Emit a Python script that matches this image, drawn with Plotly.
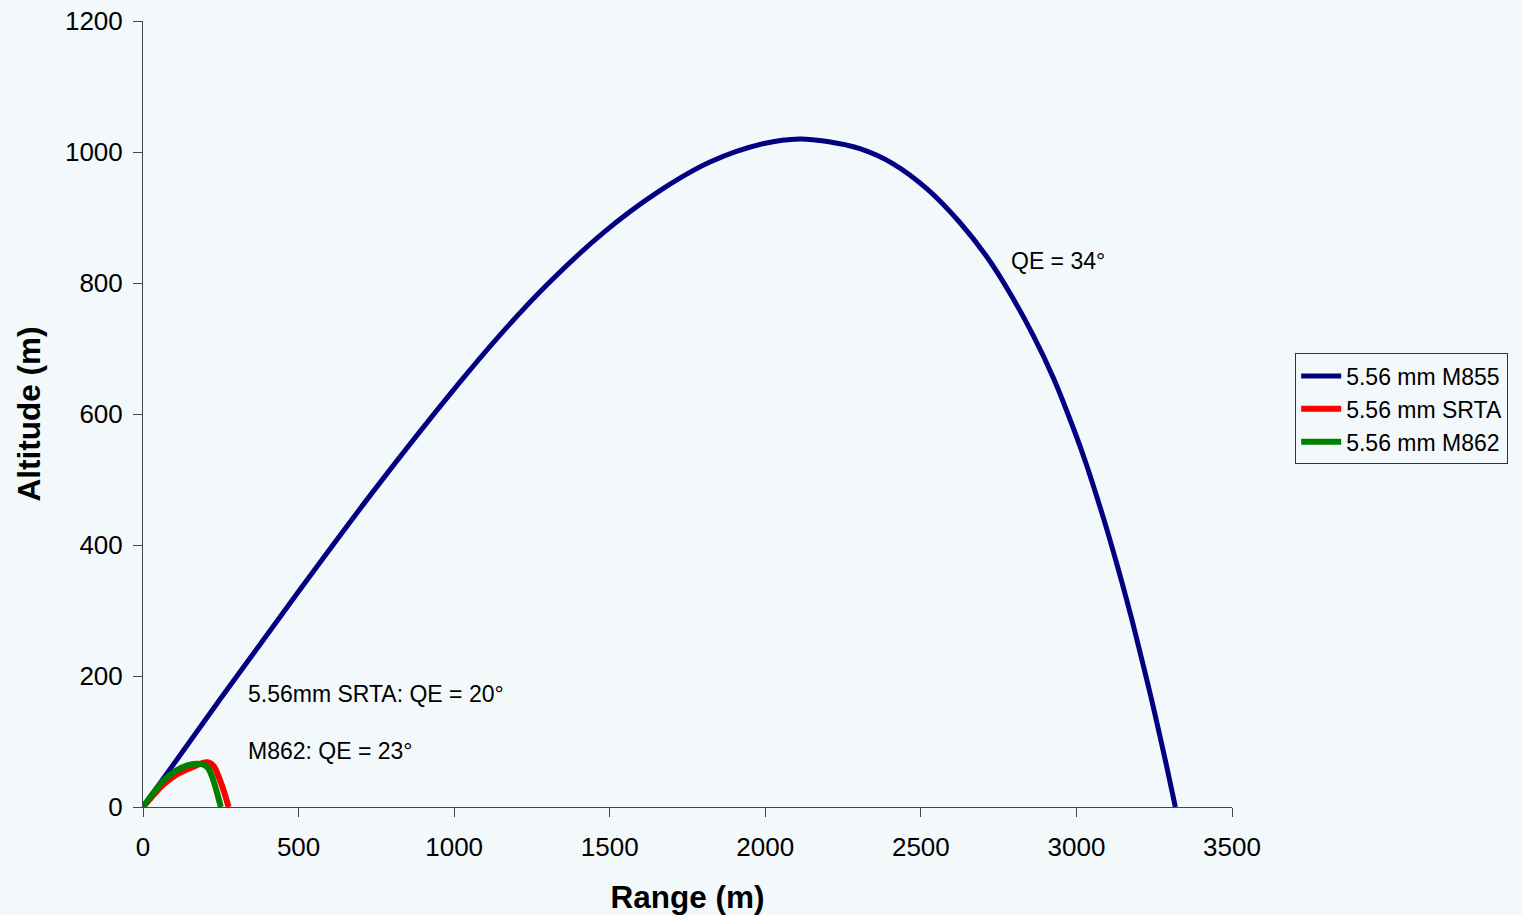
import plotly.graph_objects as go

# M855 trajectory (range m, altitude m)
m855_range = [0, 250, 500, 750, 1000, 1150, 1300, 1480, 1652, 1824, 1996, 2110, 2200,
              2304, 2411, 2519, 2626, 2712, 2787, 2861, 2926, 2996, 3032, 3066,
              3099, 3131, 3160, 3189, 3216, 3242, 3267, 3291, 3318]
m855_alt = [0, 166, 329, 488, 638, 722, 798, 877, 938, 985, 1013, 1020, 1016,
            1005, 982, 944, 892, 840, 784, 720, 655, 571, 523, 473,
            422, 369, 319, 266, 214, 163, 111, 60, 0]

# SRTA trajectory
srta_range = [0, 65, 110, 160, 190, 210, 228, 245, 260, 275]
srta_alt = [0, 34, 50, 61, 67, 68, 62, 44, 24, 0]

# M862 trajectory
m862_range = [0, 65, 108, 145, 170, 193, 210, 226, 239, 250]
m862_alt = [0, 40, 56, 64, 66, 65, 59, 41, 20, 0]

names = ["5.56 mm M855", "5.56 mm SRTA", "5.56 mm M862"]
colors = ["#000080", "#FF0000", "#008000"]
widths = [5, 6, 6]
smooth = [1.0, 0.8, 0.8]

x_ticks = [0, 500, 1000, 1500, 2000, 2500, 3000, 3500]
y_ticks = [0, 200, 400, 600, 800, 1000, 1200]

labels = [
    ("QE = 34°", 2784, 833),
    ("5.56mm SRTA: QE = 20°", 331, 172),
    ("M862: QE = 23°", 331, 85),
]

BG = "#F3F8FB"
FONT = "Liberation Sans, Arial, sans-serif"

fig = go.Figure()
series = [(m855_range, m855_alt), (srta_range, srta_alt), (m862_range, m862_alt)]
for i, (xs, ys) in enumerate(series):
    fig.add_trace(go.Scatter(
        x=xs, y=ys, mode="lines", name=names[i], legendgroup=f"g{i}",
        line=dict(color=colors[i], width=widths[i], shape="spline", smoothing=smooth[i]),
    ))

for text, x, y in labels:
    fig.add_annotation(x=x, y=y, text=text, showarrow=False, xanchor="left", yanchor="middle",
                       font=dict(size=23, color="black", family=FONT))

axis_common = dict(
    showgrid=False, zeroline=False, showline=True, linecolor="#444", linewidth=1,
    ticks="outside", ticklen=9, tickcolor="#444", tickwidth=1,
    tickfont=dict(size=26, color="black", family=FONT),
    automargin=False,
)

fig.update_layout(
    width=1522, height=915,
    margin=dict(l=143, r=290, t=21, b=108),
    paper_bgcolor=BG, plot_bgcolor=BG,
    font=dict(family=FONT, color="black"),
    xaxis=dict(range=[0, 3500], tickvals=x_ticks, ticklabelstandoff=8,
               title=dict(text="<b>Range (m)</b>", font=dict(size=31.5, family=FONT, color="black"), standoff=25),
               **axis_common),
    yaxis=dict(range=[0, 1200], tickvals=y_ticks, ticklabelstandoff=5,
               title=dict(text="<b>Altitude (m)</b>", font=dict(size=31.5, family=FONT, color="black"), standoff=14),
               **axis_common),
    legend=dict(x=1.058, y=0.577, xanchor="left", yanchor="top",
                bgcolor=BG, bordercolor="#333", borderwidth=1,
                font=dict(size=23, family=FONT, color="black"),
                tracegroupgap=0, itemwidth=40),
    showlegend=True,
)

fig.write_html("out.html")
